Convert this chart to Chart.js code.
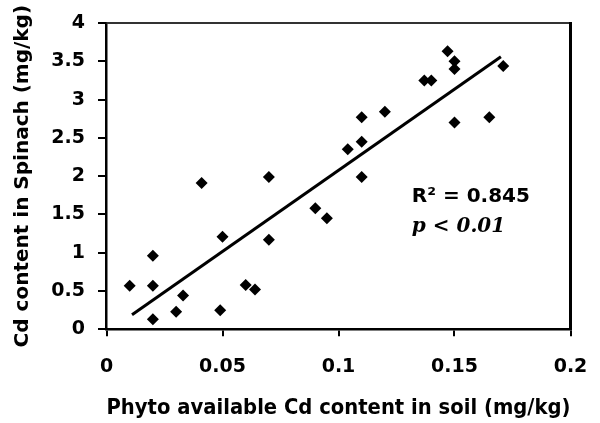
<!DOCTYPE html>
<html>
<head>
<meta charset="utf-8">
<script src="https://cdn.jsdelivr.net/npm/chart.js@4/dist/chart.umd.min.js"></script>
<style>
  html, body { margin: 0; padding: 0; background: #fff; }
  #wrap { width: 600px; height: 423px; }
</style>
</head>
<body>
<div id="wrap"><canvas id="c" width="600" height="423"></canvas></div>
<script>
// ---- data ----
const soilCd = [0.010, 0.020, 0.020, 0.020, 0.030, 0.033, 0.041, 0.049, 0.050, 0.060, 0.064, 0.070, 0.070, 0.090, 0.095, 0.104, 0.110, 0.110, 0.110, 0.120, 0.137, 0.140, 0.147, 0.150, 0.150, 0.150, 0.165, 0.171];
const spinachCd = [0.57, 0.96, 0.57, 0.13, 0.23, 0.44, 1.91, 0.25, 1.21, 0.58, 0.52, 1.99, 1.17, 1.58, 1.45, 2.35, 1.99, 2.77, 2.45, 2.84, 3.25, 3.25, 3.63, 3.50, 3.40, 2.70, 2.77, 3.44];
const trendX = [0.011, 0.170];
const trendY = [0.19, 3.56];
const xTickValues = [0, 0.05, 0.1, 0.15, 0.2];
const xTickLabels = ['0', '0.05', '0.1', '0.15', '0.2'];
const yTickValues = [0, 0.5, 1, 1.5, 2, 2.5, 3, 3.5, 4];
const yTickLabels = ['0', '0.5', '1', '1.5', '2', '2.5', '3', '3.5', '4'];
const xTitle = 'Phyto available Cd content in soil (mg/kg)';
const yTitle = 'Cd content in Spinach (mg/kg)';
const r2Text = 'R\u00B2 = 0.845';
const pText = 'p < 0.01';

const scatterPoints = soilCd.map((x, i) => ({ x: x, y: spinachCd[i] }));
const trendPoints = trendX.map((x, i) => ({ x: x, y: trendY[i] }));

const tickFont = { family: 'DejaVu Sans', weight: 'bold', size: 19 };

const framePlugin = {
  id: 'frame',
  afterDraw(chart) {
    const a = chart.chartArea;
    const ctx = chart.ctx;
    ctx.save();
    ctx.strokeStyle = '#333';
    ctx.lineWidth = 2;
    ctx.beginPath();
    ctx.moveTo(a.left, a.top);
    ctx.lineTo(a.right, a.top);
    ctx.stroke();
    ctx.strokeStyle = '#000';
    ctx.lineWidth = 3;
    ctx.beginPath();
    ctx.moveTo(a.right, a.top - 1);
    ctx.lineTo(a.right, a.bottom);
    ctx.stroke();
    // annotation text
    const xs = chart.scales.x, ys = chart.scales.y;
    const tx = xs.getPixelForValue(0.1316);
    ctx.fillStyle = '#000';
    ctx.textAlign = 'left';
    ctx.textBaseline = 'alphabetic';
    ctx.font = 'bold 20px "DejaVu Sans"';
    ctx.fillText(r2Text, tx, ys.getPixelForValue(1.665));
    ctx.font = 'italic bold 20px "DejaVu Serif"';
    ctx.fillText(pText, tx, ys.getPixelForValue(1.27));
    ctx.restore();
  }
};

new Chart(document.getElementById('c'), {
  type: 'scatter',
  data: {
    datasets: [
      {
        type: 'scatter',
        data: scatterPoints,
        pointStyle: 'rectRot',
        pointRadius: 6,
        backgroundColor: '#000',
        borderColor: '#000',
        borderWidth: 0
      },
      {
        type: 'line',
        data: trendPoints,
        borderColor: '#000',
        borderWidth: 3,
        pointRadius: 0,
        fill: false,
        tension: 0
      }
    ]
  },
  options: {
    responsive: false,
    animation: false,
    devicePixelRatio: 1,
    layout: { padding: { left: 0, right: 29.5, top: 23, bottom: 0 } },
    plugins: { legend: { display: false }, tooltip: { enabled: false } },
    scales: {
      x: {
        type: 'linear',
        min: 0, max: 0.2,
        afterBuildTicks(s) { s.ticks = xTickValues.map(v => ({ value: v })); },
        afterFit(s) { s.height = 93.7; s.paddingRight = 0; s.paddingLeft = 0; },
        ticks: {
          color: '#000', font: tickFont, padding: 19, maxRotation: 0,
          callback(v) { const i = xTickValues.indexOf(v); return i >= 0 ? xTickLabels[i] : ''; }
        },
        grid: { drawOnChartArea: false, drawTicks: true, tickLength: 7, color: '#000', lineWidth: 2 },
        border: { display: true, color: '#000', width: 2.5 },
        title: { display: true, text: xTitle, color: '#000', font: { family: 'DejaVu Sans', weight: 'bold', size: 22 }, padding: { top: 0, bottom: 2 } }
      },
      y: {
        type: 'linear',
        min: 0, max: 4,
        afterBuildTicks(s) { s.ticks = yTickValues.map(v => ({ value: v })); },
        afterFit(s) { s.width = 106.5; s.paddingTop = 0; s.paddingBottom = 0; },
        ticks: {
          color: '#000', font: tickFont, padding: 13,
          callback(v) { const i = yTickValues.indexOf(v); return i >= 0 ? yTickLabels[i] : ''; }
        },
        grid: { drawOnChartArea: false, drawTicks: true, tickLength: 8.5, color: '#000', lineWidth: 2 },
        border: { display: true, color: '#000', width: 2.5 },
        title: { display: true, text: yTitle, color: '#000', font: { family: 'DejaVu Sans', weight: 'bold', size: 20 }, padding: { top: 11, bottom: 0 } }
      }
    }
  },
  plugins: [framePlugin]
});
</script>
</body>
</html>
